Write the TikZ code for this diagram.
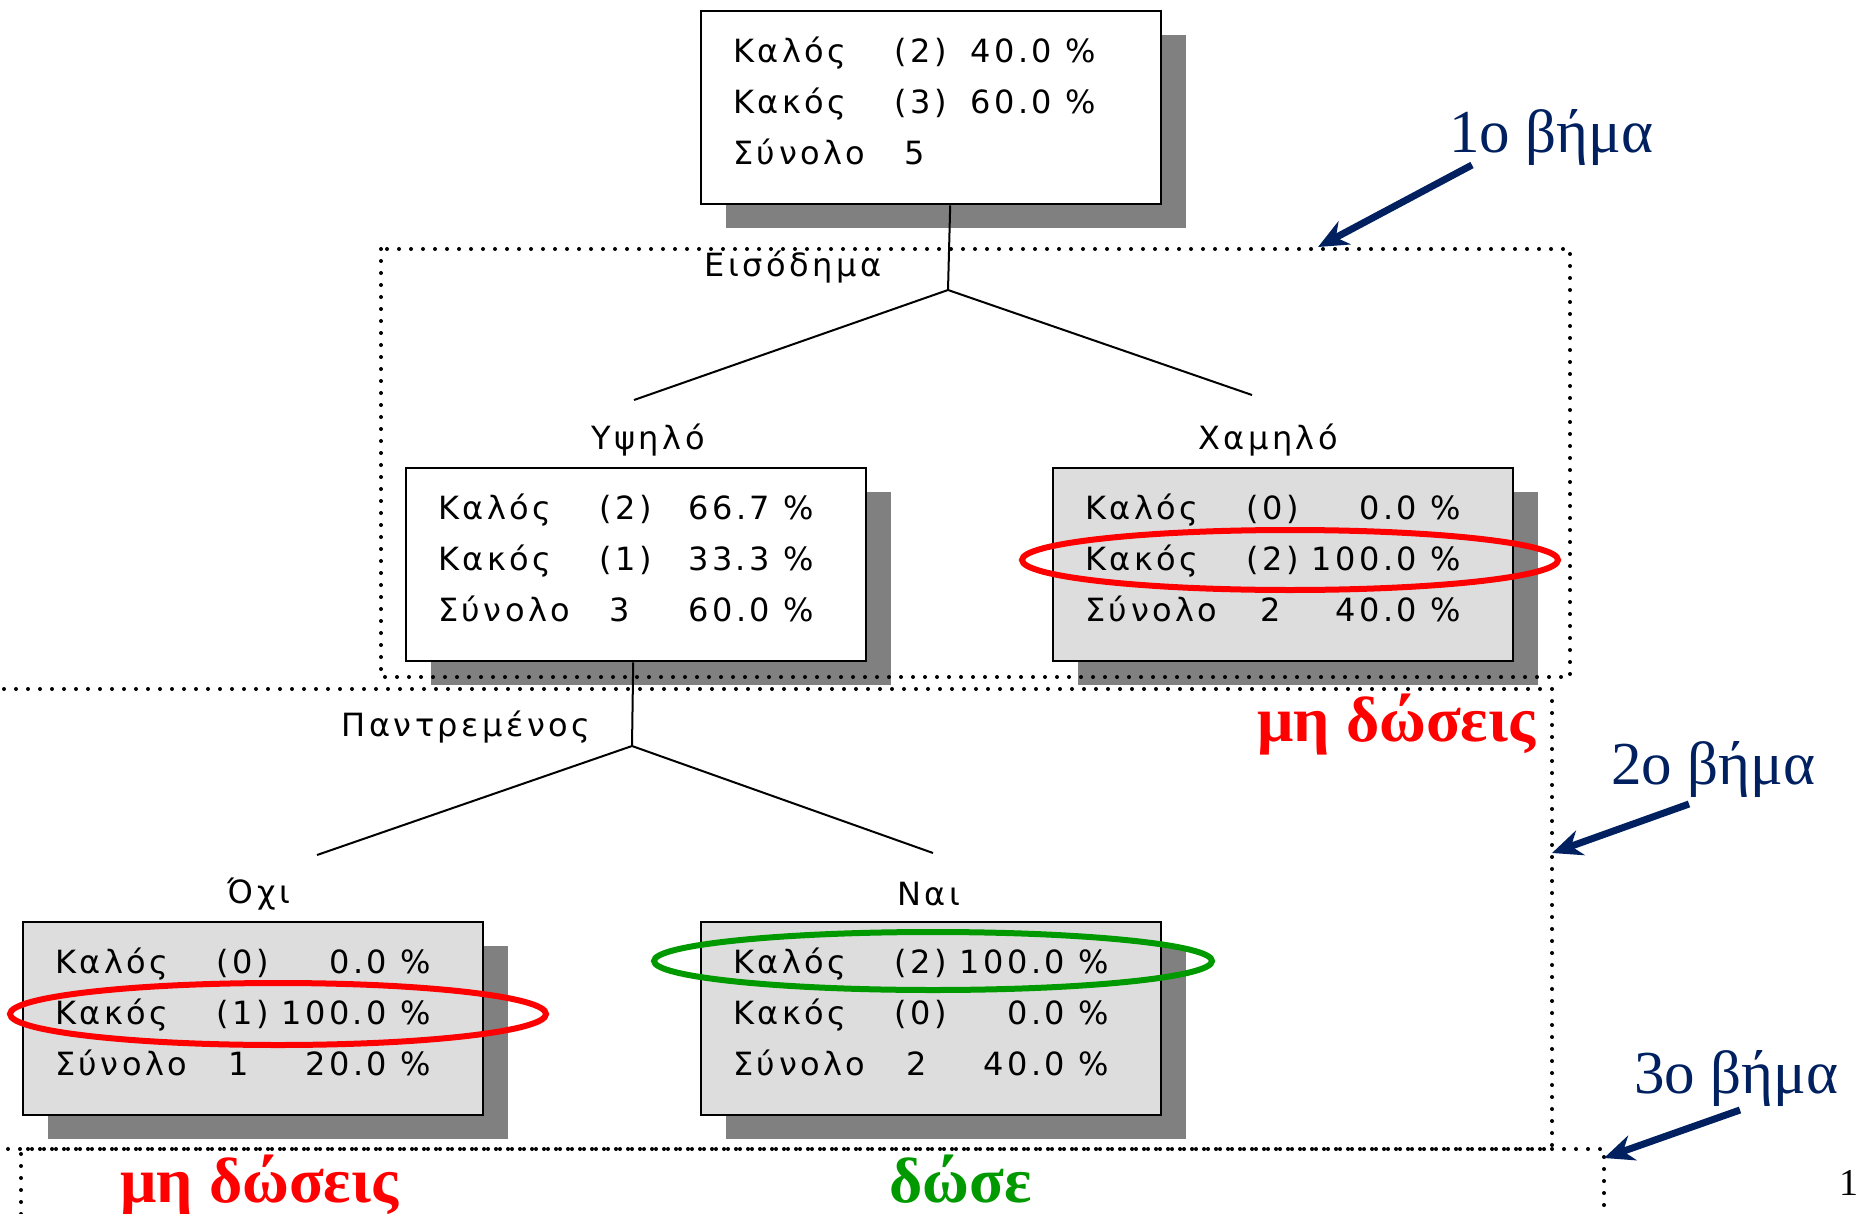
\documentclass[tikz,border=0pt]{standalone}
\usepackage{fontspec}
\setmainfont{Liberation Serif}
\newfontfamily\boxfont[LetterSpace=11]{DejaVu Sans}
\usetikzlibrary{shapes.geometric, arrows.meta, shadows}
\definecolor{navy}{RGB}{0,32,96}
\definecolor{dkgreen}{RGB}{0,153,0}
\definecolor{leafgray}{RGB}{221,221,221}
\definecolor{shadowgray}{RGB}{128,128,128}
\tikzstyle{statbox} = [rectangle, draw=black, line width=1.2pt, fill=white, inner sep=0pt, anchor=north west, drop shadow={shadow xshift=12.5pt, shadow yshift=-12pt, fill=shadowgray, opacity=1}]
\tikzstyle{leafbox} = [statbox, fill=leafgray]
\tikzstyle{branchlbl} = [font=\boxfont\fontsize{16pt}{19pt}\selectfont, inner sep=0pt]
\tikzstyle{branch} = [line width=1pt]
\tikzstyle{region} = [line width=2pt, line cap=round, dash pattern=on 0pt off 6pt]
\tikzstyle{ring} = [ellipse, line width=3pt, inner sep=0pt]
\tikzstyle{decision} = [font=\bfseries\fontsize{32pt}{36pt}\selectfont, inner sep=0pt, anchor=base west]
\tikzstyle{steplbl} = [text=navy, font=\fontsize{30.5pt}{34pt}\selectfont, inner sep=0pt, anchor=base west]
\tikzstyle{steparrow} = [navy, line width=3.5pt, -{Stealth[length=15pt,width=13pt]}]
\newcommand{\statrow}[3]{\hspace*{16pt}\makebox[80.5pt][l]{#1}\makebox[107.5pt][l]{#2\hfill#3}}
\newcommand{\statlines}[3]{\begin{minipage}[c][96.5pt][t]{230pt}\boxfont\fontsize{16pt}{25.5pt}\selectfont\rule{0pt}{25.7pt}#1\\#2\\#3\end{minipage}}

\begin{document}
\begin{tikzpicture}[x=0.5pt, y=-0.5pt]
\useasboundingbox (0,0) rectangle (1857,1214);
\node (root) [statbox] at (700,10) {\statlines{\statrow{Καλός}{(2)}{40.0 \%\hspace*{6.5pt}}}{\statrow{Κακός}{(3)}{60.0 \%\hspace*{6.5pt}}}{\statrow{Σύνολο}{\hspace*{5pt}5}{}}};
\node (high) [statbox] at (405,467) {\statlines{\statrow{Καλός}{(2)}{66.7 \%}}{\statrow{Κακός}{(1)}{33.3 \%}}{\statrow{Σύνολο}{\hspace*{5pt}3}{60.0 \%}}};
\node (low) [leafbox] at (1052,467) {\statlines{\statrow{Καλός}{(0)}{0.0 \%}}{\statrow{Κακός}{(2)}{100.0 \%}}{\statrow{Σύνολο}{\hspace*{7pt}2}{40.0 \%}}};
\node (notmarried) [leafbox] at (22,921) {\statlines{\statrow{Καλός}{(0)}{0.0 \%}}{\statrow{Κακός}{(1)}{100.0 \%}}{\statrow{Σύνολο}{\hspace*{6pt}1}{20.0 \%}}};
\node (married) [leafbox] at (700,921) {\statlines{\statrow{Καλός}{(2)}{100.0 \%}}{\statrow{Κακός}{(0)}{0.0 \%}}{\statrow{Σύνολο}{\hspace*{6pt}2}{40.0 \%}}};

\node (income) [branchlbl] at (793,267) {Εισόδημα};
\node (highlbl) [branchlbl] at (648,440) {Υψηλό};
\node (lowlbl) [branchlbl] at (1268,440) {Χαμηλό};
\node (marriedq) [branchlbl] at (466,727) {Παντρεμένος};
\node (nolbl) [branchlbl] at (259,894) {Όχι};
\node (yeslbl) [branchlbl] at (929,894) {Ναι};

\coordinate (incomesplit) at (948,290);
\coordinate (highend) at (634,400);
\coordinate (lowend) at (1252,395);
\coordinate (marriedsplit) at (632,746);
\coordinate (noend) at (317,855);
\coordinate (yesend) at (933,853);
\draw [branch] ([xshift=9.5pt]root.south) -- (incomesplit);
\draw [branch] (highend) -- (incomesplit) -- (lowend);
\draw [branch] ([xshift=-1.5pt]high.south) -- (marriedsplit);
\draw [branch] (noend) -- (marriedsplit) -- (yesend);

\draw [region] (381,249) rectangle (1570,677);
\draw [region] (4,689) -- (1552,689) -- (1552,1149) -- (4,1149);
\draw [region] (21,1214) -- (21,1149) -- (1604,1149) -- (1604,1214);

\node (lowring) [ring, draw=red, minimum width=268pt, minimum height=30pt] at (1290,560) {};
\node (noring) [ring, draw=red, minimum width=268pt, minimum height=31pt] at (278,1014) {};
\node (yesring) [ring, draw=dkgreen, minimum width=279pt, minimum height=29pt] at (933,961) {};

\node (denytop) [decision, text=red] at (1257,741) {μη δώσεις};
\node (denybottom) [decision, text=red] at (120,1202) {μη δώσεις};
\node (grant) [decision, text=dkgreen] at (889,1202) {δώσε};

\node (step1) [steplbl] at (1449,153) {1ο βήμα};
\node (step2) [steplbl] at (1611,784) {2ο βήμα};
\node (step3) [steplbl] at (1634,1093) {3ο βήμα};
\coordinate (tail1) at (1472,165);
\coordinate (tip1) at (1318,247);
\coordinate (tail2) at (1689,804);
\coordinate (tip2) at (1552,853);
\coordinate (tail3) at (1740,1110);
\coordinate (tip3) at (1604,1158);
\draw [steparrow] (tail1) -- (tip1);
\draw [steparrow] (tail2) -- (tip2);
\draw [steparrow] (tail3) -- (tip3);

\node (pagenum) [anchor=base west, inner sep=0pt, font=\fontsize{19pt}{22pt}\selectfont] at (1839,1195) {1};
\end{tikzpicture}
\end{document}
